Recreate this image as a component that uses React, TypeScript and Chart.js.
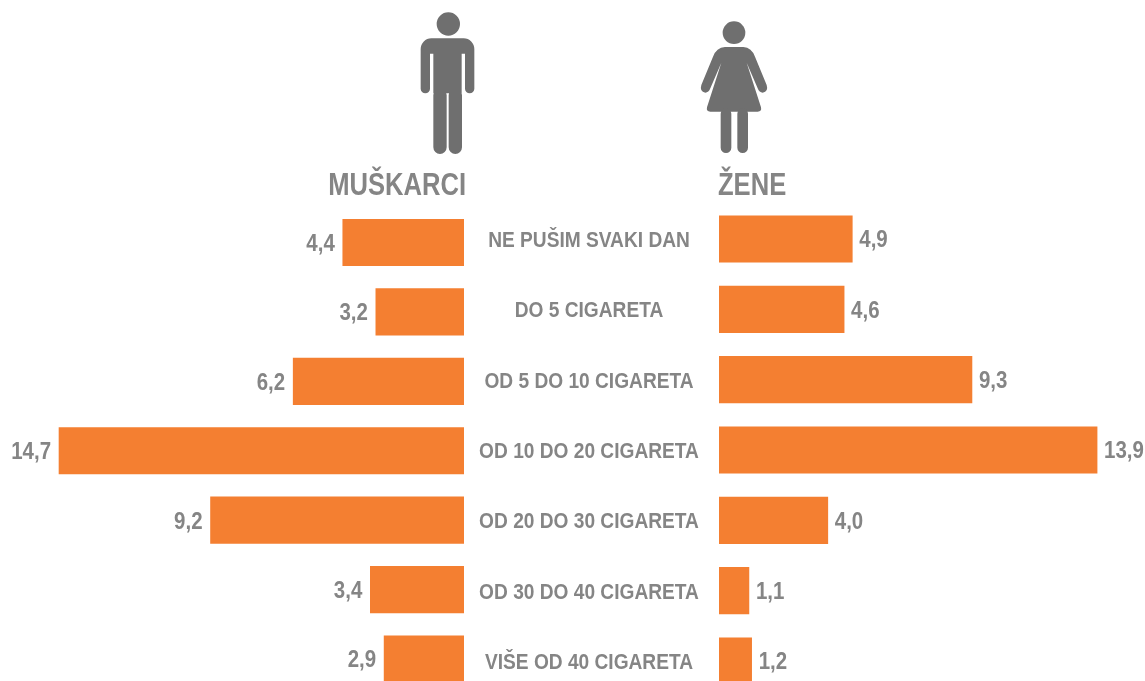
import React, { useEffect, useRef } from "react";
import { Chart, registerables } from "chart.js";

Chart.register(...registerables);

const categories = [
  "NE PUŠIM SVAKI DAN",
  "DO 5 CIGARETA",
  "OD 5 DO 10 CIGARETA",
  "OD 10 DO 20 CIGARETA",
  "OD 20 DO 30 CIGARETA",
  "OD 30 DO 40 CIGARETA",
  "VIŠE OD 40 CIGARETA",
];
const muskarci = [4.4, 3.2, 6.2, 14.7, 9.2, 3.4, 2.9];
const zene = [4.9, 4.6, 9.3, 13.9, 4.0, 1.1, 1.2];

const ORANGE = "#F47F31";
const GRAY = "#858585";
const ICON = "#6F6F6F";
const FONT = '"Liberation Sans", Arial, sans-serif';
const W = 1145;
const H = 700;

const fmt = (v: number) => v.toFixed(1).replace(".", ",");

function squeezed(
  ctx: CanvasRenderingContext2D,
  text: string,
  x: number,
  y: number,
  align: CanvasTextAlign,
  sx: number,
) {
  ctx.save();
  ctx.translate(x, y);
  ctx.scale(sx, 1);
  ctx.textAlign = align;
  ctx.textBaseline = "middle";
  ctx.fillText(text, 0, 0);
  ctx.restore();
}

function drawMan(ctx: CanvasRenderingContext2D) {
  ctx.save();
  ctx.translate(410, 5);
  ctx.scale(1 / 3, 1 / 3);
  ctx.filter = "blur(0.5px)";
  ctx.fillStyle = ICON;
  ctx.beginPath();
  ctx.arc(115, 57, 35, 0, Math.PI * 2);
  ctx.roundRect(32, 100, 161, 46, [32, 32, 0, 0]);
  ctx.roundRect(32, 130, 28, 135, 14);
  ctx.roundRect(165, 130, 28, 135, 14);
  ctx.rect(70, 130, 85, 135);
  ctx.roundRect(70, 250, 40, 197, 20);
  ctx.roundRect(116, 250, 40, 197, 20);
  ctx.fill();
  ctx.restore();
}

function drawWoman(ctx: CanvasRenderingContext2D) {
  ctx.save();
  ctx.translate(690, 10);
  ctx.scale(1 / 3, 1 / 3);
  ctx.filter = "blur(0.5px)";
  ctx.fillStyle = ICON;
  ctx.beginPath();
  ctx.arc(132, 68, 34, 0, Math.PI * 2);
  ctx.fill();
  ctx.beginPath();
  ctx.moveTo(105, 111);
  ctx.lineTo(160, 111);
  ctx.quadraticCurveTo(185, 113, 195, 140);
  ctx.lineTo(230, 225);
  ctx.quadraticCurveTo(236, 245, 218, 248);
  ctx.quadraticCurveTo(208, 248, 203, 235);
  ctx.lineTo(170, 158);
  ctx.lineTo(213, 292);
  ctx.quadraticCurveTo(216, 305, 203, 305);
  ctx.lineTo(61, 305);
  ctx.quadraticCurveTo(48, 305, 51, 292);
  ctx.lineTo(94, 158);
  ctx.lineTo(61, 235);
  ctx.quadraticCurveTo(56, 248, 46, 248);
  ctx.quadraticCurveTo(28, 245, 34, 225);
  ctx.lineTo(69, 140);
  ctx.quadraticCurveTo(79, 113, 105, 111);
  ctx.closePath();
  ctx.fill();
  ctx.beginPath();
  ctx.roundRect(92, 295, 32, 134, 16);
  ctx.roundRect(142, 295, 32, 134, 16);
  ctx.fill();
  ctx.restore();
}

function makePlugin(side: "left" | "right", heading: string, icon: (c: CanvasRenderingContext2D) => void) {
  return {
    id: "decor-" + side,
    afterDatasetsDraw(chart: any) {
      const ctx: CanvasRenderingContext2D = chart.ctx;
      ctx.save();
      icon(ctx);
      const isLeft = side === "left";
      const zero = chart.scales.x.getPixelForValue(0);
      ctx.fillStyle = GRAY;
      ctx.font = `bold 31px ${FONT}`;
      squeezed(ctx, heading, isLeft ? zero + 2 : zero - 1, 186, isLeft ? "right" : "left", 0.825);
      ctx.font = `bold 23px ${FONT}`;
      const values = chart.data.datasets[0].data as number[];
      chart.getDatasetMeta(0).data.forEach((bar: any, i: number) => {
        squeezed(ctx, fmt(values[i]), bar.x + (isLeft ? -8 : 7), bar.y + 2, isLeft ? "right" : "left", 0.89);
      });
      if (!isLeft) {
        const yScale = chart.scales.y;
        const cx = (yScale.left + yScale.right) / 2;
        ctx.font = `bold 22px ${FONT}`;
        yScale.getLabels().forEach((label: string, i: number) => {
          squeezed(ctx, label, cx, yScale.getPixelForTick(i) + 2, "center", 0.87);
        });
      }
      ctx.restore();
    },
  };
}

export default function App() {
  const leftRef = useRef<HTMLCanvasElement>(null);
  const rightRef = useRef<HTMLCanvasElement>(null);

  useEffect(() => {
    document.body.style.margin = "0";
    document.body.style.background = "#fff";
    const left = new Chart(leftRef.current!, {
      type: "bar",
      data: {
        labels: categories,
        datasets: [{ data: muskarci, backgroundColor: ORANGE, barThickness: 46.5 }],
      },
      plugins: [makePlugin("left", "MUŠKARCI", drawMan)],
      options: {
        indexAxis: "y",
        animation: false,
        responsive: false,
        layout: { padding: { top: 207.8, bottom: H - 693.7, left: 0, right: W - 464 } },
        plugins: { legend: { display: false }, tooltip: { enabled: false } },
        scales: {
          x: { display: false, reverse: true, min: 0, max: 464 / 27.55 },
          y: { display: false },
        },
      },
    });
    const right = new Chart(rightRef.current!, {
      type: "bar",
      data: {
        labels: categories,
        datasets: [{ data: zene, backgroundColor: ORANGE, barThickness: 46.5 }],
      },
      plugins: [makePlugin("right", "ŽENE", drawWoman)],
      options: {
        indexAxis: "y",
        animation: false,
        responsive: false,
        layout: { padding: { top: 203.8, bottom: H - 696.2, left: 459, right: 0 } },
        plugins: { legend: { display: false }, tooltip: { enabled: false } },
        scales: {
          x: { display: false, min: 0, max: (W - 719) / 27.2 },
          y: {
            afterFit: (s: any) => {
              s.width = 260;
              s.paddingTop = 0;
              s.paddingBottom = 0;
            },
            grid: { display: false, drawTicks: false },
            border: { display: false },
            ticks: { display: false, autoSkip: false },
          },
        },
      },
    });
    return () => {
      left.destroy();
      right.destroy();
    };
  }, []);

  const abs: React.CSSProperties = { position: "absolute", left: 0, top: 0, display: "block" };
  return (
    <div style={{ position: "absolute", left: 0, top: 0, width: W, height: 681, overflow: "hidden", background: "#fff" }}>
      <canvas ref={leftRef} width={W} height={H} style={abs} />
      <canvas ref={rightRef} width={W} height={H} style={abs} />
    </div>
  );
}
